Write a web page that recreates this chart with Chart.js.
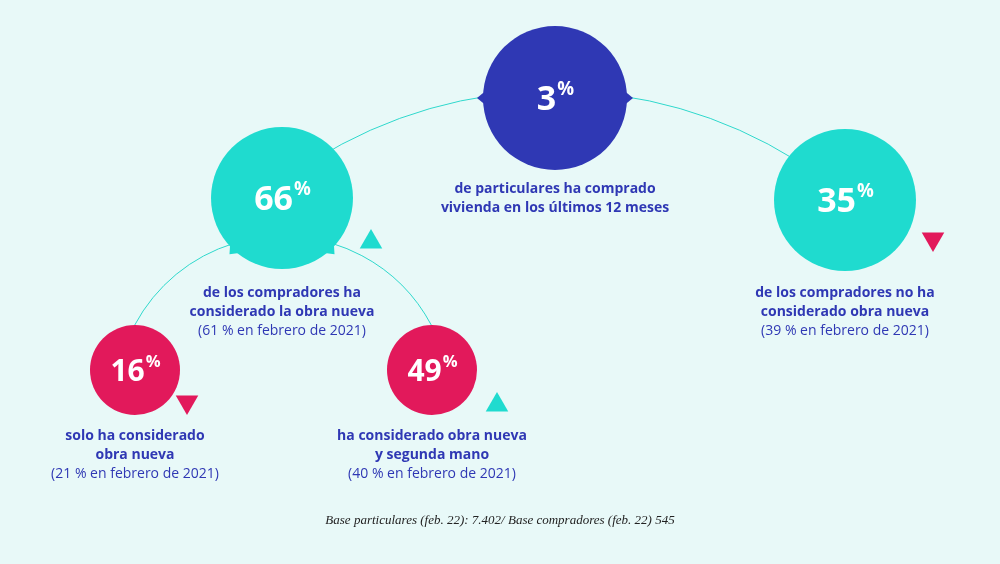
<!DOCTYPE html>
<html><head><meta charset="utf-8">
<script src="https://cdn.jsdelivr.net/npm/chart.js@4"></script>
<style>html,body{margin:0;padding:0;background:#e8f9f8}#w{width:1000px;height:564px}</style>
</head><body><div id="w"><canvas id="c"></canvas></div>
<script>
const values = [3, 66, 35, 16, 49];
const circleX = [555, 282, 845, 135, 432];
const circleY = [98, 198, 200, 370, 370];
const circleR = [72, 71, 71, 45, 45];
const circleColors = ['#2f38b4', '#1fdbcf', '#1fdbcf', '#e2195b', '#e2195b'];
const captions = [
  [['de particulares ha comprado', 1], ['vivienda en los últimos 12 meses', 1]],
  [['de los compradores ha', 1], ['considerado la obra nueva', 1], ['(61 % en febrero de 2021)', 0]],
  [['de los compradores no ha', 1], ['considerado obra nueva', 1], ['(39 % en febrero de 2021)', 0]],
  [['solo ha considerado', 1], ['obra nueva', 1], ['(21 % en febrero de 2021)', 0]],
  [['ha considerado obra nueva', 1], ['y segunda mano', 1], ['(40 % en febrero de 2021)', 0]]
];
const captionY = [193, 297, 297, 440, 440];
const trendX = [371, 933, 187, 497];
const trendY = [242, 239, 402, 405];
const trendUp = [true, false, false, true];
const footnote = 'Base particulares (feb. 22): 7.402/ Base compradores (feb. 22) 545';
// connecting arcs: center x, center y, radius (data units), start/end angle degrees
const arcs = [[555, 545, 454, 238, 302], [283, 404, 168, 208, 332]];

const deco = {
  id: 'deco',
  beforeDatasetsDraw(ch) {
    const {ctx, scales: {x, y}} = ch;
    ctx.save();
    ctx.strokeStyle = '#2fd8cc'; ctx.lineWidth = 1;
    arcs.forEach(a => {
      const cx = x.getPixelForValue(a[0]), cy = y.getPixelForValue(a[1]);
      const r = x.getPixelForValue(a[0] + a[2]) - cx;
      ctx.beginPath();
      ctx.arc(cx, cy, r, a[3] * Math.PI / 180, a[4] * Math.PI / 180);
      ctx.stroke();
    });
    const tail = (i, ang) => {
      const cx = x.getPixelForValue(circleX[i]), cy = y.getPixelForValue(circleY[i]);
      const r = circleR[i];
      ctx.fillStyle = circleColors[i];
      const a = ang * Math.PI / 180;
      const px = cx + Math.cos(a) * (r + 6), py = cy + Math.sin(a) * (r + 6);
      const a1 = a - 0.13, a2 = a + 0.13;
      ctx.beginPath();
      ctx.moveTo(cx + Math.cos(a1) * (r - 4), cy + Math.sin(a1) * (r - 4));
      ctx.lineTo(px, py);
      ctx.lineTo(cx + Math.cos(a2) * (r - 4), cy + Math.sin(a2) * (r - 4));
      ctx.fill();
    };
    tail(0, 180); tail(0, 0); tail(1, 133); tail(1, 47);
    ctx.restore();
  },
  afterDatasetsDraw(ch) {
    const {ctx, scales: {x, y}} = ch;
    ctx.save();
    ctx.textBaseline = 'alphabetic';
    values.forEach((v, i) => {
      const cx = x.getPixelForValue(circleX[i]), cy = y.getPixelForValue(circleY[i]);
      const big = circleR[i] > 60 ? 34 : 30;
      ctx.fillStyle = '#fff';
      ctx.font = `bold ${big}px "Open Sans"`;
      const t = String(v);
      const w = ctx.measureText(t).width;
      ctx.font = `bold ${big * 0.55}px "Open Sans"`;
      const pw = ctx.measureText('%').width;
      const sx = cx - (w + pw) / 2;
      ctx.font = `bold ${big}px "Open Sans"`;
      ctx.textAlign = 'left';
      ctx.fillText(t, sx, cy + big * 0.36);
      ctx.font = `bold ${big * 0.55}px "Open Sans"`;
      ctx.fillText('%', sx + w + 1, cy - big * 0.1);
      ctx.textAlign = 'center';
      captions[i].forEach((ln, k) => {
        ctx.font = (ln[1] ? 'bold ' : '') + '14px "Open Sans"';
        ctx.fillStyle = '#2f38b4';
        ctx.fillText(ln[0], cx, y.getPixelForValue(captionY[i]) + k * 19);
      });
    });
    ctx.font = 'italic 13px "Liberation Serif"';
    ctx.fillStyle = '#222';
    ctx.fillText(footnote, 500, 524);
    ctx.restore();
  }
};

new Chart(document.getElementById('c'), {
  type: 'bubble',
  data: {
    datasets: [{
      data: values.map((v, i) => ({x: circleX[i], y: circleY[i], r: circleR[i]})),
      backgroundColor: circleColors, borderWidth: 0, hoverRadius: 0, clip: false
    }, {
      type: 'scatter',
      data: trendX.map((v, i) => ({x: v, y: trendY[i]})),
      pointStyle: 'triangle', pointRadius: 13,
      rotation: trendUp.map(u => u ? 0 : 180),
      backgroundColor: trendUp.map(u => u ? '#1fdbcf' : '#e2195b'),
      borderWidth: 0, clip: false
    }]
  },
  options: {
    responsive: true, maintainAspectRatio: false, animation: false,
    layout: {padding: 0, autoPadding: false},
    plugins: {legend: {display: false}, tooltip: {enabled: false}},
    events: [],
    scales: {
      x: {type: 'linear', min: 0, max: 1000, display: false},
      y: {type: 'linear', min: 0, max: 564, reverse: true, display: false}
    }
  },
  plugins: [deco]
});
</script></body></html>
